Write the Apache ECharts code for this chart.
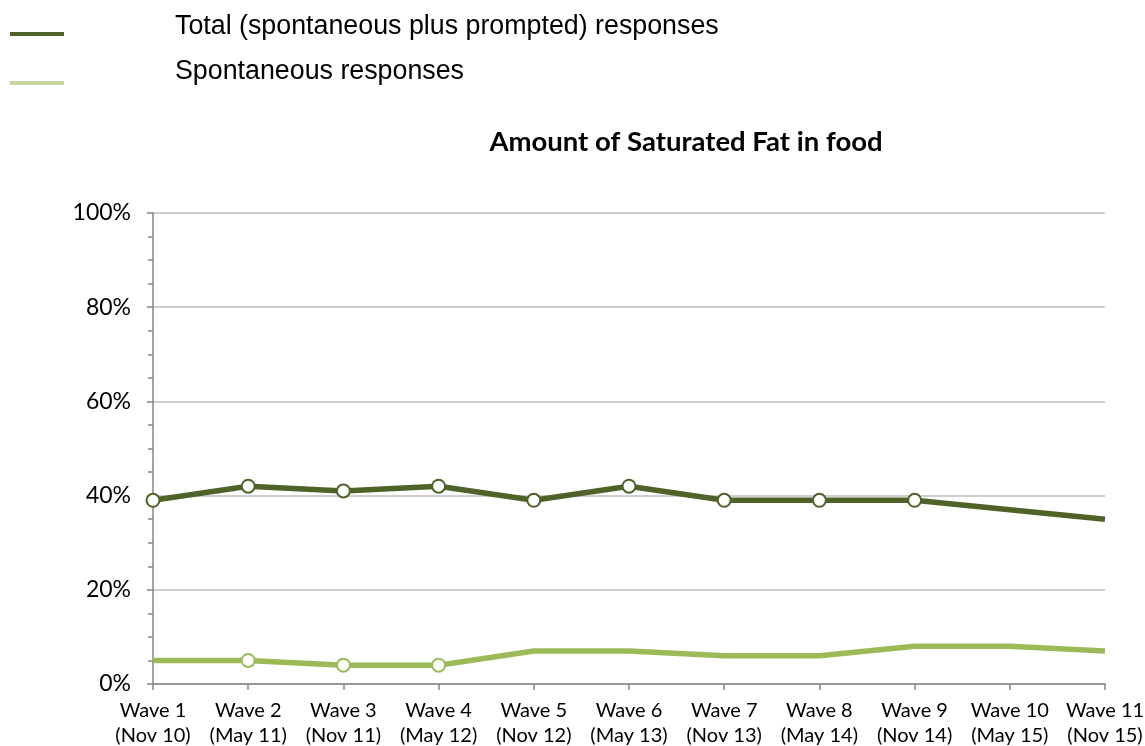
<!DOCTYPE html>
<html><head><meta charset="utf-8">
<script src="https://cdn.jsdelivr.net/npm/echarts@6/dist/echarts.min.js"></script>
<style>html,body{margin:0;padding:0;background:#fff;overflow:hidden}#c{width:1145px;height:746px}</style>
</head><body><div id="c"></div>
<script>
const categories = ["Wave 1\n(Nov 10)","Wave 2\n(May 11)","Wave 3\n(Nov 11)","Wave 4\n(May 12)","Wave 5\n(Nov 12)","Wave 6\n(May 13)","Wave 7\n(Nov 13)","Wave 8\n(May 14)","Wave 9\n(Nov 14)","Wave 10\n(May 15)","Wave 11\n(Nov 15)"];
const totalValues = [39,42,41,42,39,42,39,39,39,37,35];
const totalMarkers = [1,1,1,1,1,1,1,1,1,0,0];
const spontValues = [5,5,4,4,7,7,6,6,8,8,7];
const spontMarkers = [0,1,1,1,0,0,0,0,0,0,0];
const seriesNames = ["Total (spontaneous plus prompted) responses","Spontaneous responses"];
const yTicks = [0,20,40,60,80,100];
const legendColors = ['#4F6228','#C3D69B'];

function build(vals, marks){
  return vals.map((v,i)=> marks[i] ? {value:v} : {value:v, symbol:'none'});
}
const chart = echarts.init(document.getElementById('c'));
const legendFont = {fontFamily:'"Liberation Sans", Arial, sans-serif', fontSize:26.8, color:'#000'};
function iconLegend(i, top){
  return {left:10, top:top, padding:0, icon:'rect', itemWidth:54, itemHeight:4, selectedMode:false,
    formatter:()=>'', textStyle:{fontSize:1},
    data:[{name:seriesNames[i], itemStyle:{color:legendColors[i], borderWidth:0}}]};
}
function textLegend(i, top){
  return {left:169, top:top, padding:0, icon:'rect', itemWidth:1, itemHeight:1, selectedMode:false,
    textStyle:legendFont,
    data:[{name:seriesNames[i], itemStyle:{opacity:0, borderWidth:0}}]};
}
chart.setOption({
  animation:false,
  title:{text:'Amount of Saturated Fat in food', left:681, top:123, textAlign:'center',
    textStyle:{fontFamily:'Lato, "Open Sans", sans-serif', fontWeight:'bold', fontSize:27.5, color:'#000'}},
  legend:[ iconLegend(0, 32), iconLegend(1, 81), textLegend(0, 13), textLegend(1, 58) ],
  grid:{left:153, right:40, top:213, bottom:62, containLabel:false, outerBoundsMode:'none'},
  xAxis:{type:'category', data:categories, boundaryGap:false,
    axisLine:{lineStyle:{color:'#868686', width:1.5}},
    axisTick:{show:true, length:6, lineStyle:{color:'#868686', width:1.5}},
    axisLabel:{fontFamily:'Lato, "Open Sans", sans-serif', fontSize:20, color:'#000', lineHeight:25, margin:14, interval:0}},
  yAxis:{type:'value', min:yTicks[0], max:yTicks[yTicks.length-1], interval:20,
    axisLine:{show:true, lineStyle:{color:'#868686', width:1.5}},
    axisTick:{show:true, inside:false, length:6, lineStyle:{color:'#868686', width:1.5}},
    minorTick:{show:true, splitNumber:4, length:5, lineStyle:{color:'#868686', width:1.5}},
    splitLine:{lineStyle:{color:'#BFBFBF', width:1.5}},
    axisLabel:{formatter:'{value}%', fontFamily:'Lato, "Open Sans", sans-serif', fontSize:23, color:'#000', margin:22}},
  series:[
    {name:seriesNames[0], type:'line', data:build(totalValues,totalMarkers), z:3,
     symbol:'circle', symbolSize:13, lineStyle:{color:'#4F6228', width:5.5},
     itemStyle:{color:'#fff', borderColor:'#4F6228', borderWidth:2}},
    {name:seriesNames[1], type:'line', data:build(spontValues,spontMarkers), z:2,
     symbol:'circle', symbolSize:13, lineStyle:{color:'#9BBB59', width:5.5},
     itemStyle:{color:'#fff', borderColor:'#9BBB59', borderWidth:2}}
  ]
});
</script></body></html>
